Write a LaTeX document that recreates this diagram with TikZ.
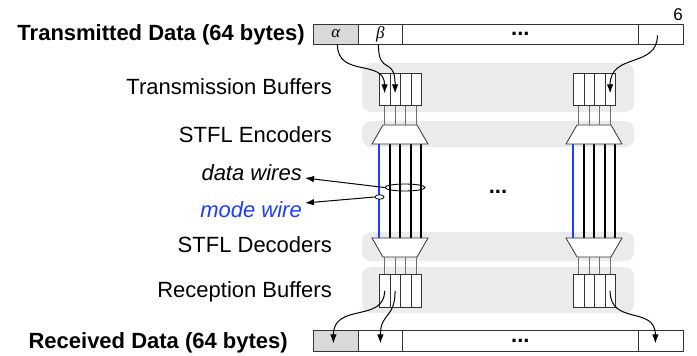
\documentclass[tikz,border=0pt]{standalone}
\usepackage{fontspec}
\setmainfont{Liberation Sans}
\newfontfamily\grkfont{Liberation Serif}
\usetikzlibrary{arrows.meta,shapes.geometric}
\definecolor{bandgray}{HTML}{EBEBEB}
\definecolor{cellgray}{HTML}{D9D9D9}
\definecolor{edge}{HTML}{333333}
\definecolor{wireblue}{HTML}{1E3CFF}
\definecolor{thinwire}{HTML}{6E6E6E}
\begin{document}
\begin{tikzpicture}[x=1pt,y=-1pt,
  lbl/.style={anchor=base east,inner sep=0pt,font=\fontsize{22}{24}\selectfont},
  ttl/.style={anchor=base east,inner sep=0pt,font=\fontsize{22}{24}\selectfont\bfseries},
  itl/.style={anchor=base east,inner sep=0pt,font=\fontsize{22}{24}\selectfont\itshape},
  band/.style={fill=bandgray,rounded corners=9pt},
  barcell/.style={draw=edge,line width=0.8pt,fill=white,inner sep=0pt,anchor=north west},
  bufcell/.style={draw=edge,line width=0.7pt,fill=white,inner sep=0pt,minimum width=10.5pt,anchor=north west},
  coder/.style={draw=edge,line width=0.8pt,fill=white},
  thinw/.style={draw=thinwire,line width=0.8pt},
  dwire/.style={line width=2pt,black},
  mwire/.style={line width=2pt,wireblue},
  arr/.style={line width=1pt,-{Latex[length=9pt,width=6.5pt]}},
  dots/.style={font=\fontsize{22}{24}\selectfont\bfseries,inner sep=0pt},
  grk/.style={font=\grkfont\itshape\fontsize{17}{17}\selectfont}
]
\useasboundingbox (0,0) rectangle (697,356);

% background bands
\fill[band] (362,63) rectangle (634,112);
\fill[band] (362,121) rectangle (634,147);
\fill[band] (362,232) rectangle (634,261);
\fill[band] (362,267) rectangle (634,313);

% top bar
\node[barcell,fill=cellgray,minimum width=45pt,minimum height=20pt,grk] (ta) at (313,23.5) {α};
\node[barcell,minimum width=44pt,minimum height=20pt,grk] (tb) at (358,23.5) {β};
\node[barcell,minimum width=236pt,minimum height=20pt,dots] (tdots) at (402,23.5) {...};
\node[barcell,minimum width=45pt,minimum height=20pt] (tlast) at (638,23.5) {};

% bottom bar
\node[barcell,fill=cellgray,minimum width=45pt,minimum height=21pt] (ba) at (313,330) {};
\node[barcell,minimum width=44pt,minimum height=21pt] (bb) at (358,330) {};
\node[barcell,minimum width=236pt,minimum height=21pt,dots] (bdots) at (402,330) {...};
\node[barcell,minimum width=45pt,minimum height=21pt] (blast) at (638,330) {};

% labels
\node[ttl] (ttx) at (305,41) {Transmitted Data (64 bytes)};
\node[anchor=base east,inner sep=0pt,font=\fontsize{17}{17}\selectfont] (six) at (683,20) {6};
\node[lbl] (ltb) at (332,94) {Transmission Buffers};
\node[lbl] (lenc) at (332,142) {STFL Encoders};
\node[itl] (ldw) at (302,180) {data wires};
\node[itl,text=wireblue] (lmw) at (302,217) {mode wire};
\node[lbl] (ldec) at (332,252) {STFL Decoders};
\node[lbl] (lrb) at (332,297) {Reception Buffers};
\node[ttl] (rtx) at (288,348) {Received Data (64 bytes)};

% coder reference points
\coordinate (encl) at (400,125);
\coordinate (encr) at (594,125);
\coordinate (decl) at (400,257);
\coordinate (decr) at (594,257);

% data and mode wires
\foreach \cx in {400,594} {
  \draw[mwire] ({\cx-21},144) -- ({\cx-21},238);
  \foreach \dx in {-10.5,0,10.5,21} {
    \draw[dwire] ({\cx+\dx},144) -- ({\cx+\dx},238);
  }
  \draw[coder] ({\cx-17},125) -- ({\cx+17},125) -- ({\cx+28},144) -- ({\cx-28},144) -- cycle;
  \draw[coder] ({\cx-28},238) -- ({\cx+28},238) -- ({\cx+17},257) -- ({\cx-17},257) -- cycle;
}

% buffers
\foreach \i in {0,...,3} {
  \node[bufcell,minimum height=32pt] (tbl\i) at ({379+10.5*\i},73) {};
  \node[bufcell,minimum height=32pt] (tbr\i) at ({573+10.5*\i},73) {};
  \node[bufcell,minimum height=33pt] (rbl\i) at ({379+10.5*\i},274) {};
  \node[bufcell,minimum height=33pt] (rbr\i) at ({573+10.5*\i},274) {};
  \draw[thinw] (tbl\i.south) -- (tbl\i.south |- encl);
  \draw[thinw] (tbr\i.south) -- (tbr\i.south |- encr);
  \draw[thinw] (rbl\i.north |- decl) -- (rbl\i.north);
  \draw[thinw] (rbr\i.north |- decr) -- (rbr\i.north);
}

% middle dots
\node[dots] (mdots) at (498,192) {...};

% ellipses and annotation arrows
\node[ellipse,draw,line width=0.9pt,minimum width=40pt,minimum height=7pt,inner sep=0pt] (dwell) at (405,187.5) {};
\node[ellipse,draw,line width=0.8pt,fill=white,minimum width=9pt,minimum height=4.5pt,inner sep=0pt] (mwell) at (379.5,197) {};
\coordinate (dwtip) at (305,178);
\coordinate (mwtip) at (305,203);
\draw[arr] (dwell.west) -- (dwtip);
\draw[arr] (mwell.west) -- (mwtip);

% transmit arrows
\draw[arr] ([xshift=1.5pt]ta.south) .. controls +(0,34) and +(0,-35) .. ([yshift=-4pt]tbl0.center);
\draw[arr] ([xshift=-2pt]tb.south) .. controls +(0,32) and +(0,-38) .. ([yshift=-4pt]tbl1.center);
\draw[arr] ([xshift=-3.5pt,yshift=-1.5pt]tlast.center) .. controls +(0,33) and +(0,-41) .. ([yshift=-4pt]tbr3.center);

% receive arrows
\draw[arr] (rbl0.center) .. controls +(0,32) and +(0,-41) .. ([xshift=-2.5pt,yshift=-2.5pt]ba.center);
\draw[arr] (rbl1.center) .. controls +(0,28) and +(0,-31) .. ([yshift=-2.5pt]bb.center);
\draw[arr] (rbr3.center) .. controls +(0,35) and +(0,-38) .. ([xshift=-5.5pt,yshift=-2.5pt]blast.center);
\end{tikzpicture}
\end{document}
